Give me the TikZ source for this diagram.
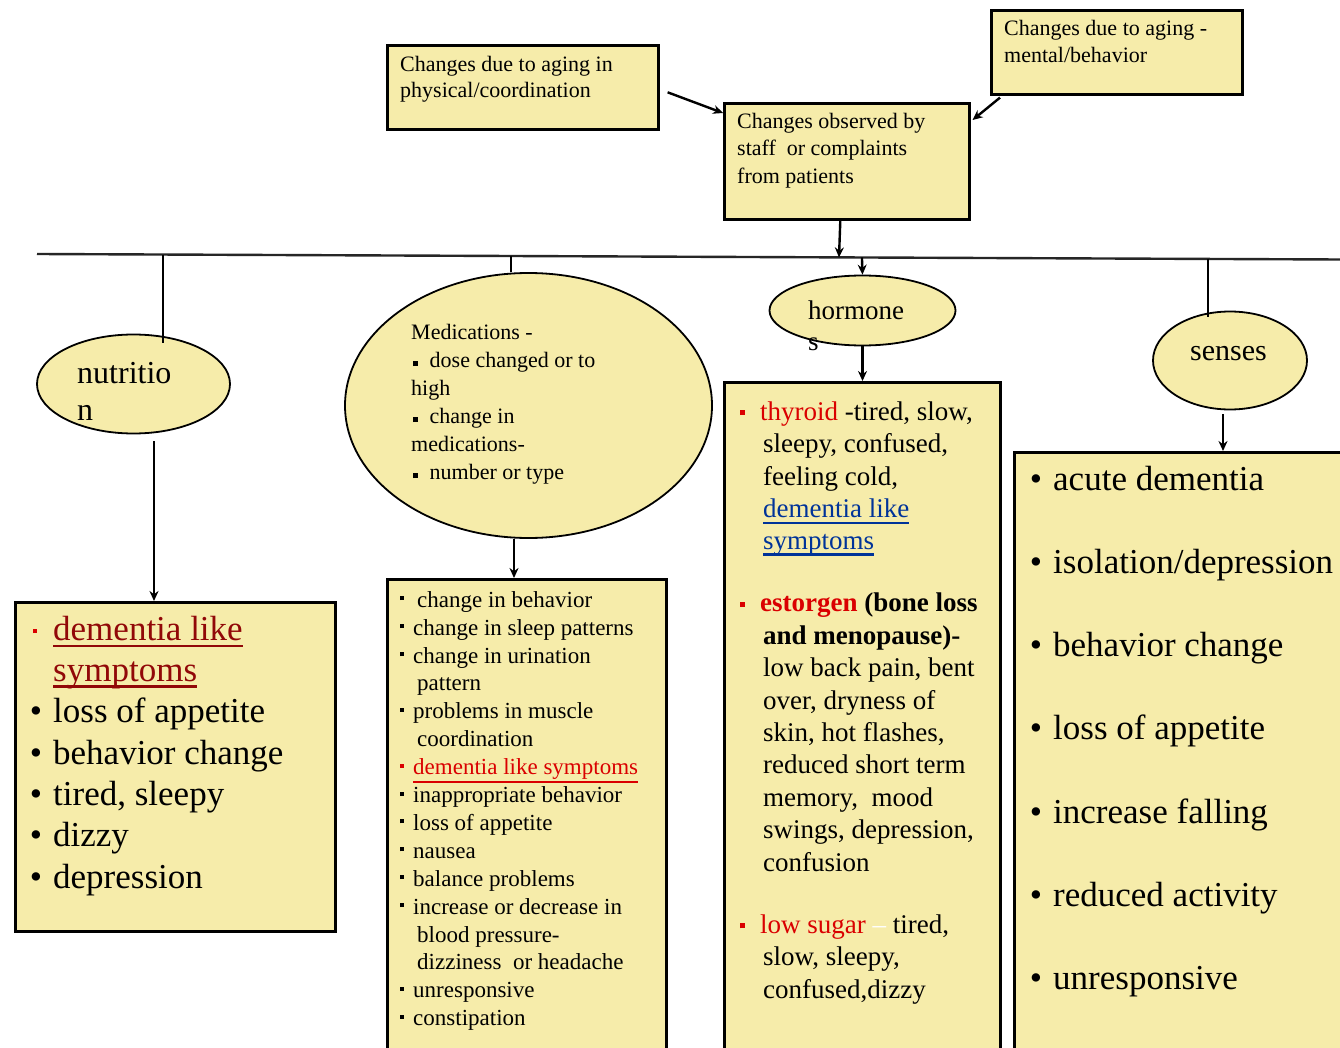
\documentclass[tikz,border=0pt]{standalone}
\usepackage{fontspec}
\setmainfont{Liberation Serif}
\usetikzlibrary{arrows.meta,calc,shapes.geometric}
\definecolor{boxfill}{RGB}{246,236,170}
\definecolor{tred}{RGB}{218,0,0}
\definecolor{dred}{RGB}{145,8,8}
\definecolor{tblue}{RGB}{0,51,153}
\newcommand\myul[4]{\setbox0=\hbox{\textcolor{#1}{#4}}\rlap{\textcolor{#1}{\rule[-#3]{\wd0}{#2}}}\box0}
\newcommand\sqb[4]{\llap{\textcolor{#1}{\rule[#2]{#3}{#3}}\hspace{#4}}}
\newcommand\rdb[1]{\llap{\textbullet\hspace{#1}}}
\newcommand\tp[1]{\rule{0pt}{#1}}
\begin{document}
\begin{tikzpicture}[x=1pt,y=-1pt,
 box/.style={draw=black, line width=2.6pt, fill=boxfill, rectangle, inner sep=0pt, anchor=north west},
 oval/.style={draw=black, line width=1.8pt, fill=boxfill, ellipse, inner sep=0pt},
 txt/.style={anchor=north west, inner sep=0pt, align=left, text=black},
 conn/.style={line width=2.4pt, draw=black},
 arr/.style={conn, -{Stealth[length=10pt,width=9pt]}}]
\useasboundingbox (0,0) rectangle (1340,1048);
\fill[white] (0,0) rectangle (1340,1048);

% boxes
\node[box, minimum width=271pt, minimum height=84pt] (phys) at (386,44) {};
\node[box, minimum width=251pt, minimum height=84pt] (mental) at (990,9) {};
\node[box, minimum width=245pt, minimum height=116pt] (center) at (723,102) {};
\node[box, minimum width=320pt, minimum height=329pt] (nbox) at (14,601) {};
\node[box, minimum width=279pt, minimum height=520pt] (mbox) at (386,578) {};
\node[box, minimum width=276pt, minimum height=720pt] (hbox) at (723,381) {};
\node[box, minimum width=380pt, minimum height=650pt] (sbox) at (1013,451) {};

% ellipses
\node[oval, minimum width=193pt, minimum height=99pt] (nutr) at (133.5,384) {};
\node[oval, minimum width=367pt, minimum height=265pt] (meds) at (528.5,405.5) {};
\node[oval, minimum width=186pt, minimum height=70pt] (horm) at (862.5,310.5) {};
\node[oval, minimum width=154pt, minimum height=98pt] (sens) at (1230,360.5) {};

% texts
\node[txt, font=\fontsize{22}{26}\selectfont] (physT) at (400,53.4) {\tp{17.6pt}Changes due to aging in\\physical/coordination};
\node[txt, font=\fontsize{22}{27}\selectfont] (mentalT) at (1004,17.4) {\tp{17.6pt}Changes due to aging -\\mental/behavior};
\node[txt, font=\fontsize{22}{27.5}\selectfont] (centerT) at (737,110.4) {\tp{17.6pt}Changes observed by\\staff\ \ or complaints\\from patients};

\node[txt, font=\fontsize{22}{28}\selectfont] (medsT) at (411,321.4) {\tp{17.6pt}Medications -\\
\hspace*{1.5pt}\rule[1pt]{5pt}{5pt}\hspace{12pt}dose changed or to\\
high\\
\hspace*{1.5pt}\rule[1pt]{5pt}{5pt}\hspace{12pt}change in\\
medications-\\
\hspace*{1.5pt}\rule[1pt]{5pt}{5pt}\hspace{12pt}number or type};

\node[txt, font=\fontsize{32}{37}\selectfont] (nutrT) at (77,357.4) {\tp{25.6pt}nutritio\\n};
\node[txt, font=\fontsize{27}{31}\selectfont] (hormT) at (808,297.4) {\tp{21.6pt}hormone\\s};
\node[txt, font=\fontsize{30}{36}\selectfont] (sensT) at (1190,336) {\tp{24pt}senses};

\node[txt, font=\fontsize{35}{41.3}\selectfont] (nboxT) at (53,612) {\tp{28pt}\sqb{tred}{7pt}{4.5pt}{16pt}\myul{dred}{2.5pt}{7pt}{dementia like}\\
\myul{dred}{2.5pt}{6pt}{symptoms}\\
\rdb{11pt}loss of appetite\\
\rdb{11pt}behavior change\\
\rdb{11pt}tired, sleepy\\
\rdb{11pt}dizzy\\
\rdb{11pt}depression};

\node[txt, font=\fontsize{23}{27.9}\selectfont] (mboxT) at (413,588.6) {\tp{18.4pt}\sqb{black}{7pt}{4pt}{9pt}\hspace*{4pt}change in behavior\\
\sqb{black}{7pt}{4pt}{9pt}change in sleep patterns\\
\sqb{black}{7pt}{4pt}{9pt}change in urination\\
\hspace*{4pt}pattern\\
\sqb{black}{7pt}{4pt}{9pt}problems in muscle\\
\hspace*{4pt}coordination\\
\sqb{tred}{7pt}{4pt}{9pt}\myul{tred}{2.5pt}{8.5pt}{dementia like symptoms}\\
\sqb{black}{7pt}{4pt}{9pt}inappropriate behavior\\
\sqb{black}{7pt}{4pt}{9pt}loss of appetite\\
\sqb{black}{7pt}{4pt}{9pt}nausea\\
\sqb{black}{7pt}{4pt}{9pt}balance problems\\
\sqb{black}{7pt}{4pt}{9pt}increase or decrease in\\
\hspace*{4pt}blood pressure-\\
\hspace*{4pt}dizziness\ \ or headache\\
\sqb{black}{7pt}{4pt}{9pt}unresponsive\\
\sqb{black}{7pt}{4pt}{9pt}constipation};

\node[txt, font=\fontsize{27}{32.4}\selectfont] (hboxT) at (760,398.4) {\tp{21.6pt}\sqb{tred}{5pt}{5pt}{15pt}\textcolor{tred}{thyroid} -tired, slow,\\
\hspace*{3pt}sleepy, confused,\\
\hspace*{3pt}feeling cold,\\
\hspace*{3pt}\myul{tblue}{2.5pt}{7pt}{dementia like}\\
\hspace*{3pt}\myul{tblue}{2.5pt}{6pt}{symptoms}\\[29.6pt]
\sqb{tred}{5pt}{5pt}{15pt}\textcolor{tred}{\bfseries estorgen} \textbf{(bone loss}\\
\hspace*{3pt}\textbf{and menopause)-}\\
\hspace*{3pt}low back pain, bent\\
\hspace*{3pt}over, dryness of\\
\hspace*{3pt}skin, hot flashes,\\
\hspace*{3pt}reduced short term\\
\hspace*{3pt}memory,\ \ mood\\
\hspace*{3pt}swings, depression,\\
\hspace*{3pt}confusion\\[30pt]
\sqb{tred}{5pt}{5pt}{15pt}\textcolor{tred}{low sugar} \textcolor{white}{–} tired,\\
\hspace*{3pt}slow, sleepy,\\
\hspace*{3pt}confused,dizzy};

\node[txt, font=\fontsize{35}{83.2}\selectfont] (sboxT) at (1053,462) {\tp{28pt}\rdb{11pt}acute dementia\\
\rdb{11pt}isolation/depression\\
\rdb{11pt}behavior change\\
\rdb{11pt}loss of appetite\\
\rdb{11pt}increase falling\\
\rdb{11pt}reduced activity\\
\rdb{11pt}unresponsive};

% bar and connectors
\coordinate (barL) at (37,254);
\coordinate (barR) at (1340,259.5);
\draw[line width=2.4pt, black!85] (barL) -- (barR);
\coordinate (dN) at ($(barL)!0.0967!(barR)$);
\coordinate (dM) at ($(barL)!0.3638!(barR)$);
\coordinate (dC) at ($(barL)!0.6155!(barR)$);
\coordinate (dH) at ($(barL)!0.6331!(barR)$);
\coordinate (dS) at ($(barL)!0.8987!(barR)$);

\draw[arr] ($(phys.east)+(8,5)$) -- ($(center.north west)+(0,11)$);
\draw[arr] ($(mental.south west)+(10,2)$) -- ($(center.north east)+(2,18)$);
\draw[arr] ($(center.south)+(-6.5,0)$) -- (dC);

\draw[conn] (dN) -- ($(dN |- nutr.north)+(0,9)$);
\draw[conn] (dM) -- (dM |- meds.north);
\draw[arr] (dH) -- (horm.north);
\draw[conn] (dS) -- ($(dS |- sens.north)+(0,6)$);

\coordinate (nA) at ($(nutr.south)+(20.5,7)$);
\draw[arr] (nA) -- (nA |- nbox.north);
\coordinate (mA) at ($(meds.south)+(-14.5,0)$);
\draw[arr] (mA) -- (mA |- mbox.north);
\draw[arr] (horm.south) -- (horm.south |- hbox.north);
\coordinate (sA) at ($(sens.south)+(-7,4)$);
\draw[arr] (sA) -- (sA |- sbox.north);
\end{tikzpicture}
\end{document}
